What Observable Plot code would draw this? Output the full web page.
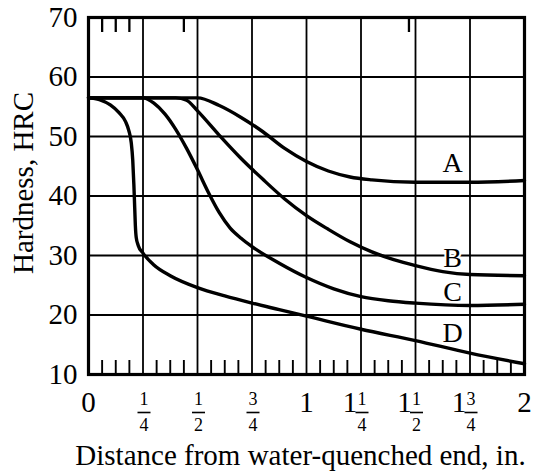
<!DOCTYPE html>
<html>
<head>
<meta charset="utf-8">
<script src="https://cdn.jsdelivr.net/npm/d3@7"></script>
<script src="https://cdn.jsdelivr.net/npm/@observablehq/plot@0.6"></script>
<style>
  html, body { margin: 0; padding: 0; background: white; }
</style>
</head>
<body>
<div id="chart"></div>
<script>
// Curve data (distance in inches, hardness HRC)
const xA = [0, 0.5, 0.6, 0.7, 0.8, 0.9, 1.0, 1.1, 1.2, 1.3, 1.5, 1.75, 2];
const yA = [56.5, 56.5, 55.2, 53.2, 50.8, 48.0, 45.8, 44.2, 43.2, 42.7, 42.3, 42.3, 42.6];
const xB = [0, 0.4, 0.45, 0.5, 0.6, 0.7, 0.8, 0.9, 1.0, 1.1, 1.2, 1.3, 1.4, 1.5, 1.625, 1.75, 2];
const yB = [56.5, 56.5, 56.1, 54.3, 50.2, 46.3, 42.8, 39.5, 36.7, 34.4, 32.3, 30.6, 29.3, 28.3, 27.3, 26.8, 26.6];
const xC = [0, 0.25, 0.3, 0.35, 0.4, 0.45, 0.5, 0.55, 0.6, 0.65, 0.7, 0.75, 0.875, 1.0, 1.125, 1.25, 1.375, 1.5, 1.75, 2];
const yC = [56.5, 56.5, 55.6, 53.8, 51.2, 48.0, 44.4, 40.6, 37.2, 34.6, 32.9, 31.5, 28.7, 26.3, 24.4, 23.1, 22.4, 22.0, 21.6, 21.8];
const xD = [0, 0.05, 0.1, 0.14, 0.17, 0.185, 0.196, 0.203, 0.208, 0.212, 0.215, 0.219, 0.228, 0.25, 0.3, 0.375, 0.5, 0.625, 0.75, 0.875, 1, 1.25, 1.5, 1.75, 2];
const yD = [56.5, 56.2, 55.3, 54.0, 52.5, 51.0, 49.0, 46.0, 42.0, 38.0, 35.0, 33.0, 31.7, 30.4, 28.4, 26.6, 24.6, 23.2, 22.0, 20.9, 19.8, 17.6, 15.7, 13.6, 11.8];

const curveNames = ["A", "B", "C", "D"];
const labelX = [1.67, 1.67, 1.67, 1.67];
const labelY = [45.6, 29.5, 23.8, 17.0];

// Axis ticks
const yTicks = [10, 20, 30, 40, 50, 60, 70];
const xGrid = [0, 0.25, 0.5, 0.75, 1, 1.25, 1.5, 1.75, 2];
const xWhole = ["0", "", "", "", "1", "1", "1", "1", "2"];
const xNum = ["", "1", "1", "3", "", "1", "1", "3", ""];
const xDen = ["", "4", "2", "4", "", "4", "2", "4", ""];
const minorTicks = d3.range(1, 32).map(i => i / 16).filter(v => (v * 4) % 1 !== 0);
const topTicks = [1/16, 2/16, 3/16, 7/16, 1.47];

const xTitle = "Distance from water-quenched end, in.";
const yTitle = "Hardness, HRC";

const series = [[xA, yA], [xB, yB], [xC, yC], [xD, yD]];
const rows = series.flatMap(([xs, ys], k) => xs.map((x, i) => ({curve: curveNames[k], x, y: ys[i]})));
const labels = curveNames.map((c, i) => ({c, x: labelX[i], y: labelY[i]}));
const ticks = xGrid.map((v, i) => ({v, whole: xWhole[i], num: xNum[i], den: xDen[i]}));

const serif = "'Liberation Serif', 'Times New Roman', serif";
const bottomText = {frameAnchor: "bottom", lineAnchor: "middle", textAnchor: "middle"};
// horizontal fraction bar symbol
const fractionBar = {draw(context) { context.moveTo(-6.5, 0); context.lineTo(6.5, 0); }};

const chart = Plot.plot({
  width: 540,
  height: 471,
  marginLeft: 88,
  marginRight: 16,
  marginTop: 17,
  marginBottom: 97,
  x: {domain: [0, 2]},
  y: {domain: [10, 70]},
  style: {fontFamily: serif, background: "white", color: "black", overflow: "visible"},
  marks: [
    Plot.gridX(xGrid, {stroke: "black", strokeOpacity: 1, strokeWidth: 1.8}),
    Plot.gridY(yTicks, {stroke: "black", strokeOpacity: 1, strokeWidth: 1.8}),
    Plot.axisX(minorTicks, {anchor: "bottom", tickSize: -14, tickFormat: () => "", label: null, strokeWidth: 1.9}),
    Plot.axisX(topTicks, {anchor: "top", tickSize: -14, tickFormat: () => "", label: null, strokeWidth: 2.3}),
    Plot.axisY(yTicks, {anchor: "left", tickSize: 0, tickPadding: 11, fontSize: 29, label: null}),
    Plot.frame({stroke: "black", strokeWidth: 3.2}),
    Plot.line(rows, {x: "x", y: "y", z: "curve", curve: "monotone-x", stroke: "black", strokeWidth: 3.4}),
    Plot.text(labels, {x: "x", y: "y", text: "c", fontSize: 28, fill: "black", stroke: "white", strokeWidth: 4}),
    // x tick labels: whole numbers alone
    Plot.text(ticks.filter(d => d.whole && !d.num), {...bottomText, x: "v", text: "whole", dy: 28, fontSize: 29}),
    // whole part of mixed numbers
    Plot.text(ticks.filter(d => d.whole && d.num), {...bottomText, x: "v", text: "whole", dy: 28, dx: -11, fontSize: 29}),
    // fractions
    Plot.text(ticks.filter(d => d.num), {...bottomText, x: "v", text: "num", dy: 25, dx: 1, fontSize: 18}),
    Plot.dot(ticks.filter(d => d.num), {x: "v", frameAnchor: "bottom", dy: 38, dx: 1, symbol: fractionBar, r: 5, stroke: "black", strokeWidth: 1.6, fill: "none"}),
    Plot.text(ticks.filter(d => d.den), {...bottomText, x: "v", text: "den", dy: 51, dx: 1, fontSize: 18}),
    // axis titles
    Plot.text([xTitle], {...bottomText, text: d => d, dy: 81, dx: -6, fontSize: 29}),
    Plot.text([yTitle], {frameAnchor: "left", textAnchor: "middle", lineAnchor: "middle", text: d => d, rotate: -90, dx: -65, dy: -13, fontSize: 29})
  ]
});
document.getElementById("chart").appendChild(chart);
</script>
</body>
</html>
